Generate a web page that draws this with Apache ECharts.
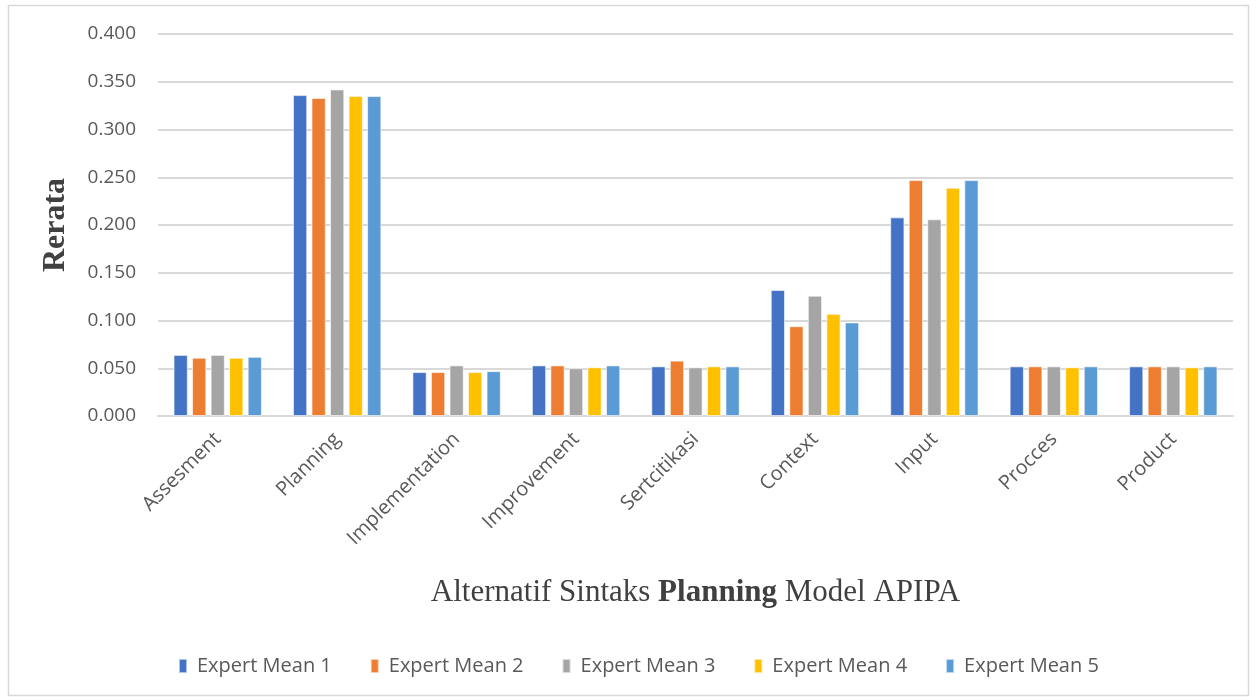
<!DOCTYPE html>
<html>
<head>
<meta charset="utf-8">
<script src="https://cdn.jsdelivr.net/npm/echarts@6/dist/echarts.min.js"></script>
<style>
  html, body { margin: 0; padding: 0; background: #fff; }
  #chart { width: 1256px; height: 700px; }
</style>
</head>
<body>
<div id="chart"></div>
<script>
// Mean scores per syntax alternative, one array per expert
const categories = ['Assesment', 'Planning', 'Implementation', 'Improvement', 'Sertcitikasi', 'Context', 'Input', 'Procces', 'Product'];
const seriesNames = ['Expert Mean 1', 'Expert Mean 2', 'Expert Mean 3', 'Expert Mean 4', 'Expert Mean 5'];
const expertMean1 = [0.064, 0.336, 0.046, 0.053, 0.052, 0.132, 0.208, 0.052, 0.052];
const expertMean2 = [0.061, 0.333, 0.046, 0.053, 0.058, 0.094, 0.247, 0.052, 0.052];
const expertMean3 = [0.064, 0.342, 0.053, 0.050, 0.051, 0.126, 0.206, 0.052, 0.052];
const expertMean4 = [0.061, 0.335, 0.046, 0.051, 0.052, 0.107, 0.239, 0.051, 0.051];
const expertMean5 = [0.062, 0.335, 0.047, 0.053, 0.052, 0.098, 0.247, 0.052, 0.052];
const colors = ['#4472C4', '#ED7D31', '#A5A5A5', '#FFC000', '#5B9BD5'];

const allValues = [expertMean1, expertMean2, expertMean3, expertMean4, expertMean5];
const uiFont = "'Open Sans', 'Noto Sans', sans-serif";
const serifFont = "'Liberation Serif', 'DejaVu Serif', serif";

const chart = echarts.init(document.getElementById('chart'));
chart.setOption({
  animation: false,
  color: colors,
  graphic: [{
    type: 'rect',
    shape: { x: 8.5, y: 5.5, width: 1240, height: 690 },
    style: { fill: 'none', stroke: '#d9d9d9', lineWidth: 1.5 },
    silent: true
  }],
  grid: { left: 158, right: 23, top: 34, bottom: 284, containLabel: false },
  legend: {
    data: seriesNames,
    top: 651,
    left: 173,
    icon: 'rect',
    itemWidth: 8,
    itemHeight: 14,
    itemGap: 38,
    textStyle: { fontFamily: uiFont, fontSize: 20, color: '#595959', padding: [0, 0, 0, 5] }
  },
  xAxis: {
    type: 'category',
    data: categories,
    axisTick: { show: false },
    axisLine: { lineStyle: { color: '#d9d9d9', width: 2 } },
    axisLabel: { rotate: 45, margin: 20, fontFamily: uiFont, fontSize: 20, color: '#595959', interval: 0 },
    name: 'Alternatif Sintaks {b|Planning} Model APIPA',
    nameLocation: 'middle',
    nameGap: 161,
    nameTextStyle: {
      fontFamily: serifFont, fontSize: 31, color: '#404040',
      rich: { b: { fontFamily: serifFont, fontSize: 31, fontWeight: 'bold', color: '#404040' } }
    }
  },
  yAxis: {
    type: 'value',
    min: 0,
    max: 0.4,
    interval: 0.05,
    axisLabel: { formatter: v => v.toFixed(3), fontFamily: uiFont, fontSize: 19, color: '#595959', margin: 22 },
    splitLine: { lineStyle: { color: '#d9d9d9', width: 2 } },
    axisLine: { show: false },
    axisTick: { show: false },
    name: 'Rerata',
    nameLocation: 'middle',
    nameGap: 86,
    nameRotate: 90,
    nameTextStyle: { fontFamily: serifFont, fontSize: 32, fontWeight: 'bold', color: '#404040' }
  },
  series: seriesNames.map((name, i) => ({
    name,
    type: 'bar',
    data: allValues[i],
    barGap: '30%',
    barCategoryGap: '26%',
    itemStyle: { color: colors[i], borderColor: 'rgba(255,255,255,0.6)', borderWidth: 1 }
  }))
});
</script>
</body>
</html>
